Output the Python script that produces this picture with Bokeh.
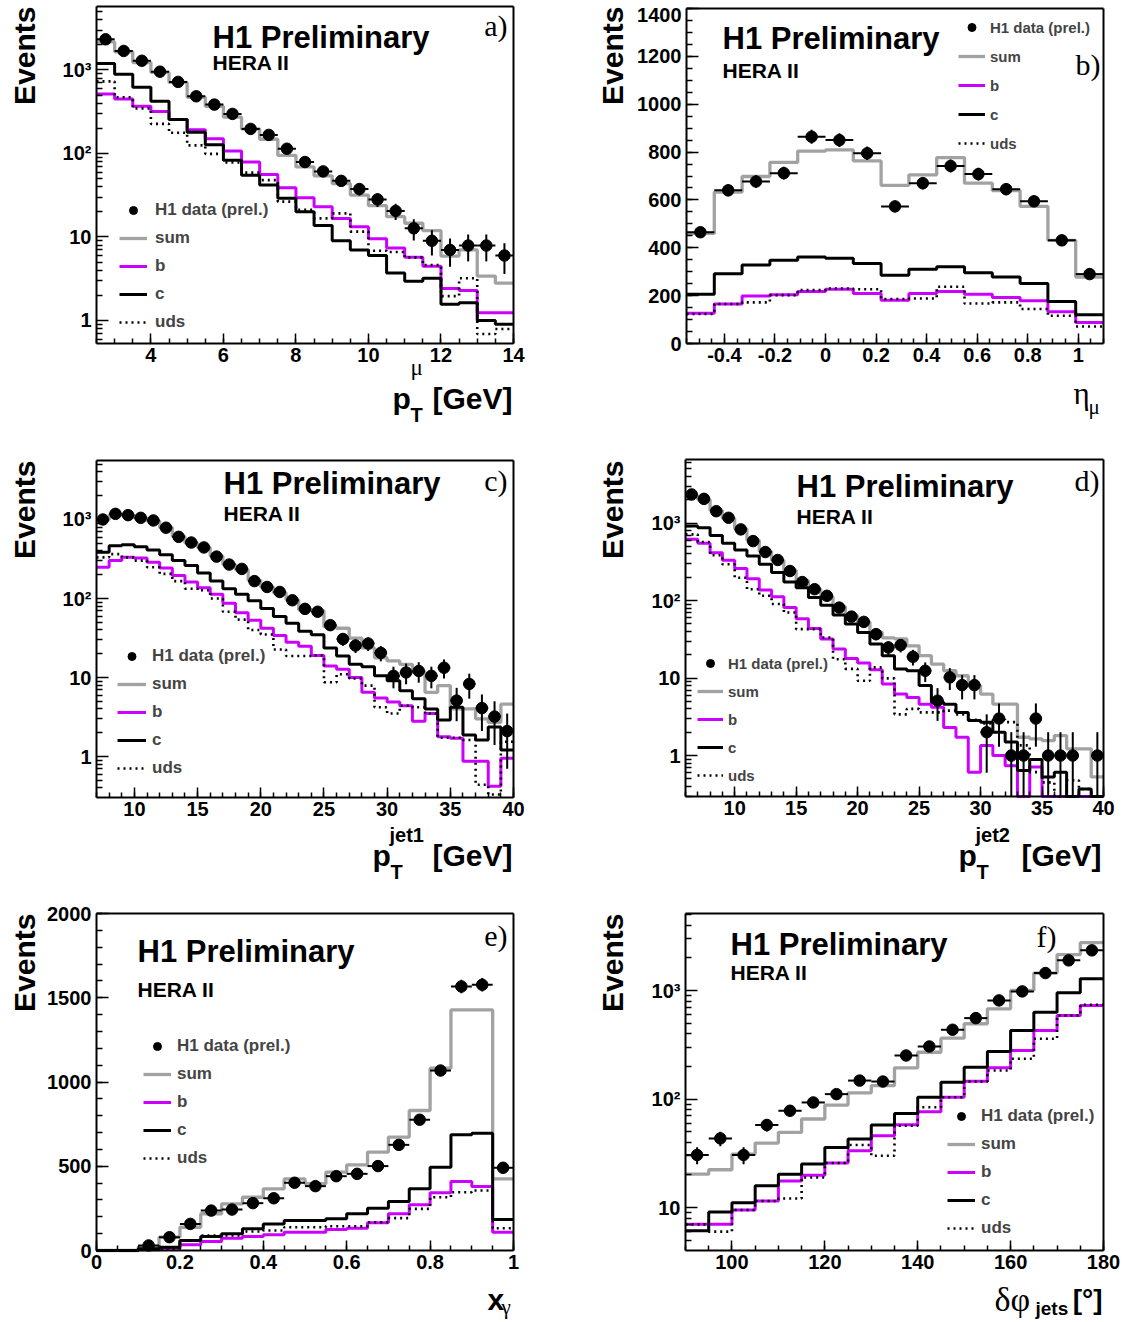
import numpy as np
from bokeh.plotting import figure
from bokeh.models import FixedTicker, Label, Legend, LegendItem, Range1d, LinearAxis
from bokeh.layouts import column, row
from bokeh.core.properties import value
from bokeh.embed import file_html
from bokeh.resources import INLINE

NaN = float("nan")

# ======================= DATA =======================
LEGEND_LABELS = ["H1 data (prel.)", "sum", "b", "c", "uds"]
log_ticks = [1, 10, 100, 1000]
log_labels = ["1", "10", "10\u00b2", "10\u00b3"]

# a) p_T of the muon, bins (low, high, n)
a_bins = (2.5, 14.0, 23)
a_data = [2330, 1690, 1290, 955, 720, 484, 385, 298, 197, 167, 114, 79, 61, 47, 37.5, 28.2, 20.5, 12.7, 9.0, 7.0, 7.9, 7.9, 6.0]
a_err = [48, 41, 36, 31, 27, 22, 20, 17, 14, 13, 11, 9, 8, 7, 6, 5.3, 4.5, 3.6, 3.0, 2.6, 2.8, 2.8, 2.4]
a_sum = [2170, 1650, 1230, 935, 710, 471, 367, 272, 197, 148, 95, 69, 54, 43.7, 31.8, 23.7, 17.5, 14.6, 11.9, 5.9, 7.0, 3.4, 2.8]
a_b = [515, 449, 367, 318, 255, 192, 150, 107, 79, 56, 39, 29.5, 23, 16.7, 13.3, 9.5, 7.4, 5.7, 4.45, 2.42, 2.29, 1.24, 1.24]
a_c = [1195, 890, 620, 422, 255, 180, 127, 83, 55, 41.8, 29, 20.1, 13.7, 9.0, 7.0, 6.0, 3.7, 2.95, 3.2, 1.56, 1.63, 1.0, 0.9]
a_uds = [730, 471, 347, 226, 177, 125, 99, 78, 59, 48, 26.5, 21.2, 16.7, 19.2, 11.6, 6.85, 6.6, 5.7, 4.6, 1.96, 3.2, 0.69, 0.79]
a_xticks = [4, 6, 8, 10, 12, 14]
a_xlabels = ["4", "6", "8", "10", "12", "14"]

# b) eta of the muon
b_bins = (-0.55, 1.1, 15)
b_data = [465, 640, 677, 712, 864, 850, 795, 573, 670, 742, 708, 645, 594, 431, 290]
b_err = [22, 25, 26, 27, 29, 29, 28, 24, 26, 27, 27, 25, 24, 21, 17]
b_sum = [460, 633, 698, 757, 804, 809, 763, 661, 705, 777, 670, 639, 573, 431, 278]
b_b = [126, 165, 199, 204, 217, 227, 209, 181, 209, 217, 206, 192, 179, 133, 88]
b_c = [206, 292, 328, 348, 361, 356, 334, 285, 310, 321, 296, 278, 251, 176, 120]
b_uds = [123, 165, 172, 202, 223, 230, 227, 186, 188, 237, 167, 172, 144, 116, 71]
b_xticks = [-0.4, -0.2, 0.0, 0.2, 0.4, 0.6, 0.8, 1.0]
b_xlabels = ["-0.4", "-0.2", "0", "0.2", "0.4", "0.6", "0.8", "1"]
b_yticks = [0, 200, 400, 600, 800, 1000, 1200, 1400]
b_ylabels = ["0", "200", "400", "600", "800", "1000", "1200", "1400"]

# c) p_T of jet 1
c_bins = (7.0, 40.0, 33)
c_data = [1000, 1178, 1135, 1050, 972, 787, 603, 511, 443, 339, 269, 237, 166, 140, 121, 95, 74, 68, 46, 30.7, 25.4, 26.9, 20.5, 10.5, 11.6, 12.1, 10.5, 13.3, 5.1, 8.3, 4.1, 3.2, 2.1]
c_err = [31.6, 34.3, 33.7, 32.4, 31.2, 28.1, 24.6, 22.6, 21.0, 18.4, 16.4, 15.4, 12.9, 11.8, 11.0, 9.7, 8.6, 8.2, 6.8, 5.5, 5.0, 5.2, 4.5, 3.2, 3.4, 3.5, 3.2, 3.6, 2.3, 2.9, 2.0, 1.8, 1.4]
c_sum = [990, 1150, 1130, 1040, 960, 790, 610, 505, 440, 345, 270, 232, 170, 140, 118, 96, 72, 70, 44, 42, 31.6, 23.7, 17.8, 16.2, 14.7, 11.8, 6.5, 7.9, 4.0, 4.0, 3.0, 2.7, 4.6]
c_b = [249, 302, 332, 325, 288, 244, 196, 162, 137, 113, 87, 66, 53, 42, 34, 28, 24.9, 19.0, 14.0, 12.7, 10.0, 6.5, 5.5, 4.9, 4.4, 2.8, 3.5, 1.78, 1.7, 0.87, 0.87, 0.42, 0.95]
c_c = [384, 465, 479, 452, 410, 359, 302, 261, 210, 166, 133, 113, 94, 75, 59, 48.7, 38.4, 34.9, 23.7, 18.7, 14.7, 13.7, 10.5, 9.1, 6.8, 5.4, 4.0, 2.9, 4.2, 1.87, 1.62, 2.37, 1.21]
c_uds = [332, 365, 332, 302, 249, 205, 166, 133, 127, 100, 68, 54, 40, 35, 22.6, 18.7, 18.7, 19, 8.7, 11.0, 9.7, 7.9, 4.2, 3.5, 4.4, 4.2, 3.5, 1.73, 1.73, 1.62, 0.44, 0.33, 1.54]
c_xticks = [10, 15, 20, 25, 30, 35, 40]
c_xlabels = ["10", "15", "20", "25", "30", "35", "40"]

# d) p_T of jet 2
d_bins = (6.0, 40.0, 34)
d_data = [2335, 2050, 1420, 1167, 827, 584, 422, 333, 240, 173, 140, 115, 81, 62, 53, 36.8, 24.8, 26.6, 18.8, 12.4, 5.1, 10.2, 8.1, 8.1, 2.0, 3.0, 1.0, 1.0, 3.0, 1.0, 1.0, 1.0, NaN, 1.0]
d_err = [48, 45, 38, 34, 29, 24, 20.5, 18.2, 15.5, 13.2, 11.8, 10.7, 9.0, 7.9, 7.3, 6.1, 5.0, 5.2, 4.3, 3.5, 2.3, 3.2, 2.8, 2.8, 1.4, 1.7, 1.0, 1.0, 1.7, 1.0, 1.0, 1.0, 0, 1.0]
d_sum = [2250, 2000, 1450, 1150, 840, 600, 430, 330, 245, 180, 140, 112, 84, 64, 53, 39, 33, 32, 26, 19.4, 15.1, 12.4, 10.7, 8.0, 6.2, 4.6, 4.6, 1.72, 1.64, 1.56, 1.81, 1.22, 1.22, 0.53]
d_b = [615, 546, 414, 330, 258, 191, 137, 112, 81, 58, 43.5, 31.8, 23.6, 17.9, 15.6, 12.8, 8.4, 6.2, 5.6, 4.6, 4.2, 2.3, 1.72, 0.61, 1.35, 1.0, 0.74, 0, 0.71, 0, 0, 0, 0, 0]
d_c = [912, 867, 692, 546, 448, 375, 293, 229, 173, 146, 109, 87, 65, 49.6, 38.6, 27.4, 19.4, 13.1, 12.4, 8.0, 4.85, 4.6, 3.6, 2.82, 2.69, 2.0, 1.49, 0.64, 0.89, 0.53, 0.61, 0, 0.37, 0]
d_uds = [713, 568, 383, 293, 197, 140, 115, 90, 70, 42.7, 42.7, 33.3, 17.5, 13.1, 9.2, 13.7, 9.9, 3.4, 4.0, 3.6, 3.6, 3.8, 3.4, 2.9, 2.6, 2.9, 2.7, 1.35, 0.61, 0.45, 0, 0.48, 0.37, 0]
d_xticks = [10, 15, 20, 25, 30, 35, 40]
d_xlabels = ["10", "15", "20", "25", "30", "35", "40"]

# e) x_gamma
e_bins = (0.0, 1.0, 20)
e_data = [NaN, NaN, 30, 79, 158, 237, 243, 281, 310, 402, 382, 441, 455, 501, 627, 776, 1068, 1567, 1577, 491]
e_err = [0, 0, 5.5, 9, 12.6, 15.4, 15.6, 16.8, 17.6, 20, 19.5, 21, 21.3, 22.4, 25, 27.9, 32.7, 39.6, 39.7, 22.2]
e_sum = [0, 0, 20, 79, 138, 218, 277, 316, 366, 425, 396, 465, 508, 584, 673, 831, 1082, 1428, 1428, 425]
e_b = [0, 0, 4, 14, 34, 53, 73, 83, 93, 109, 109, 125, 132, 164, 218, 271, 342, 410, 380, 109]
e_c = [0, 0, 10, 20, 59, 83, 99, 129, 158, 178, 178, 188, 218, 251, 291, 366, 494, 687, 696, 184]
e_uds = [0, 0, 5, 10, 59, 89, 89, 113, 119, 138, 138, 144, 144, 168, 192, 247, 316, 346, 356, 132]
e_xticks = [0.0, 0.2, 0.4, 0.6, 0.8, 1.0]
e_xlabels = ["0", "0.2", "0.4", "0.6", "0.8", "1"]
e_yticks = [0, 500, 1000, 1500, 2000]
e_ylabels = ["0", "500", "1000", "1500", "2000"]

# f) delta phi of the jets
f_bins = (90.0, 180.0, 18)
f_data = [30.5, 43.4, 30.5, 57.7, 78, 93, 111, 148, 145, 252, 305, 435, 557, 811, 982, 1449, 1897, 2345]
f_err = [5.5, 6.6, 5.5, 7.6, 8.8, 9.6, 10.5, 12.2, 12.0, 15.9, 17.5, 20.9, 23.6, 28.5, 31.3, 38.1, 43.6, 48.4]
f_sum = [20.3, 22.3, 31.1, 39.3, 49.3, 65.5, 88, 114, 133, 194, 270, 364, 494, 679, 1002, 1449, 2141, 2763]
f_b = [7.0, 7.0, 9.5, 11.5, 17.6, 19.9, 25.7, 33.4, 45.9, 58, 76.5, 104, 146, 194, 280, 428, 589, 728]
f_c = [6.1, 9.1, 11.1, 15.9, 20.3, 25.2, 35.8, 42.8, 57.7, 73.5, 104, 143, 196, 274, 428, 632, 955, 1285]
f_uds = [7.0, 6.0, 9.5, 11.5, 12.1, 18.9, 25.7, 37.7, 30, 56.8, 84, 104, 145, 183, 235, 359, 589, 739]
f_xticks = [100, 120, 140, 160, 180]
f_xlabels = ["100", "120", "140", "160", "180"]

# ======================= STYLE / LAYOUT =======================
GRAY = "#a2a2a2"
MAGENTA = "#cc00ff"
SANS = "Liberation Sans"
SERIF = "Liberation Serif"

# canvas blocks (page px): columns (x0, width), rows (y0, height)
COLS = {"L": (0, 590), "R": (590, 538)}
ROWS = {1: (0, 448), 2: (448, 453), 3: (901, 420)}

LOG_MINOR = [m * 10.0 ** k for k in range(-1, 4) for m in range(2, 10)]


def frange(a, b, s):
    n = int(round((b - a) / s))
    return [round(a + i * s, 6) for i in range(n + 1)]


def make_geom(col, rw, box, xr, yr, log):
    cx0, cw = COLS[col]
    cy0, ch = ROWS[rw]
    return dict(cx0=cx0, cw=cw, cy0=cy0, ch=ch, bl=box[0], br=box[1], bt=box[2], bb=box[3],
                x0=xr[0], x1=xr[1], y0=yr[0], y1=yr[1], log=log)


def to_data(g, px, py):
    x = g["x0"] + (px - g["bl"]) / (g["br"] - g["bl"]) * (g["x1"] - g["x0"])
    t = (g["bb"] - py) / (g["bb"] - g["bt"])
    if g["log"]:
        l0, l1 = np.log10(g["y0"]), np.log10(g["y1"])
        y = 10 ** (l0 + t * (l1 - l0))
    else:
        y = g["y0"] + t * (g["y1"] - g["y0"])
    return float(x), float(y)


def inside(vals, lo, hi):
    return [v for v in vals if lo - 1e-9 <= v <= hi + 1e-9]


def style_axis(ax):
    ax.axis_line_color = "black"
    ax.axis_line_width = 2
    ax.major_tick_line_color = "black"
    ax.minor_tick_line_color = "black"
    ax.major_tick_line_width = 1.5
    ax.minor_tick_line_width = 1.5
    ax.major_tick_out = 0
    ax.minor_tick_out = 0
    ax.major_label_text_font = SANS
    ax.major_label_text_font_style = "bold"
    ax.major_label_text_font_size = "20px"
    ax.major_label_text_color = "black"


def panel(g, bins, data, err, sums, bq, cq, uds, xt, xl, xminor, yt, yl, yminor, leg, texts):
    lo, hi, n = bins
    edges = np.linspace(lo, hi, n + 1)
    centers = 0.5 * (edges[:-1] + edges[1:])
    X0, Ytop = to_data(g, g["cx0"], g["cy0"])
    X1, Ybot = to_data(g, g["cx0"] + g["cw"], g["cy0"] + g["ch"])
    p = figure(width=g["cw"], height=g["ch"],
               x_range=Range1d(X0, X1), y_range=Range1d(Ybot, Ytop),
               y_axis_type="log" if g["log"] else "linear",
               output_backend="svg", toolbar_location=None, title=None, min_border=0)
    p.xgrid.visible = False
    p.ygrid.visible = False
    p.outline_line_color = None
    p.background_fill_color = "white"
    p.border_fill_color = "white"

    floor = g["y0"]

    def hy(v):
        v = np.maximum(np.asarray(v, float), floor)
        return np.append(v, v[-1])

    r_sum = p.step(edges, hy(sums), mode="after", line_color=GRAY, line_width=3.3)
    r_b = p.step(edges, hy(bq), mode="after", line_color=MAGENTA, line_width=3)
    r_c = p.step(edges, hy(cq), mode="after", line_color="black", line_width=3)
    r_u = p.step(edges, hy(uds), mode="after", line_color="black", line_width=2.6, line_dash="2 4")

    v = np.asarray(data, float)
    e = np.asarray(err, float)
    ylo = np.maximum(v - e, floor)
    p.segment(centers, ylo, centers, v + e, line_color="black", line_width=2)
    p.segment(edges[:-1], v, edges[1:], v, line_color="black", line_width=2)
    r_d = p.scatter(centers, v, size=11.5, fill_color="black", line_color="black")

    # axes drawn along the plot box
    xa, ya = p.xaxis[0], p.yaxis[0]
    xa.fixed_location = g["y0"]
    xa.bounds = (g["x0"], g["x1"])
    ya.fixed_location = g["x0"]
    ya.bounds = (g["y0"], g["y1"])
    xt_in = inside(xt, g["x0"], g["x1"])
    yt_in = inside(yt, g["y0"], g["y1"])
    xa.ticker = FixedTicker(ticks=xt_in, minor_ticks=inside(xminor, g["x0"], g["x1"]))
    xa.major_label_overrides = {t: s for t, s in zip(xt, xl) if t in xt_in}
    ya.ticker = FixedTicker(ticks=yt_in, minor_ticks=inside(yminor, g["y0"], g["y1"]))
    ya.major_label_overrides = {t: s for t, s in zip(yt, yl) if t in yt_in}
    style_axis(xa)
    style_axis(ya)
    xa.major_tick_in = 10
    xa.minor_tick_in = 5
    xa.major_label_standoff = 4
    ya.major_tick_in = 12
    ya.minor_tick_in = 6
    ya.major_label_standoff = 5
    top = LinearAxis(ticker=FixedTicker(ticks=[], minor_ticks=[]), fixed_location=g["y1"],
                     bounds=(g["x0"], g["x1"]))
    right = LinearAxis(ticker=FixedTicker(ticks=[], minor_ticks=[]), fixed_location=g["x1"],
                       bounds=(g["y0"], g["y1"]))
    for ax in (top, right):
        style_axis(ax)
        ax.major_tick_in = 0
        ax.minor_tick_in = 0
    p.add_layout(top, "above")
    p.add_layout(right, "right")

    items = [LegendItem(label=value(lab), renderers=[r])
             for lab, r in zip(LEGEND_LABELS, [r_d, r_sum, r_b, r_c, r_u])]
    vx = leg["gx"] - g["cx0"]
    vy = (g["cy0"] + g["ch"]) - (leg["cl"] + 10)
    lg = Legend(items=items, location=(vx, vy), padding=0, margin=0,
                spacing=leg["sp"], glyph_width=leg["gw"], glyph_height=20, label_height=20,
                label_standoff=leg["so"], label_text_font=SANS, label_text_font_style="bold",
                label_text_font_size=leg["fs"], border_line_alpha=0, background_fill_alpha=0)
    p.add_layout(lg)

    for (txt, px, py, size, font, style, align, base, ang) in texts:
        x, y = to_data(g, px, py)
        p.add_layout(Label(x=x, y=y, text=txt, text_font=font, text_font_style=style,
                           text_font_size=f"{size}px", text_align=align, text_baseline=base,
                           angle=np.deg2rad(ang), text_color="black"))
    return p


B, N = "bold", "normal"
L_, R_, M_, A_ = "left", "right", "middle", "alphabetic"


def common(ex, ey, letter, lx, ly, hx, hy1, hy2):
    return [("Events", ex, ey, 30, SANS, B, R_, M_, 90),
            (letter, lx, ly, 30, SERIF, N, R_, M_, 0),
            ("H1 Preliminary", hx, hy1, 31, SANS, B, L_, M_, 0),
            ("HERA II", hx, hy2, 21, SANS, B, L_, M_, 0)]


ga = make_geom("L", 1, (96, 513, 6, 343), (2.5, 14.0), (0.530, 5760), True)
gb = make_geom("R", 1, (686, 1103, 8, 343), (-0.55, 1.1), (0, 1400), False)
gc = make_geom("L", 2, (96, 513, 460, 797), (7.0, 40.0), (0.303, 5580), True)
gd = make_geom("R", 2, (685, 1103, 459, 796), (6.0, 40.0), (0.296, 6596), True)
ge = make_geom("L", 3, (96, 513, 913, 1250), (0.0, 1.0), (0, 2000), False)
gf = make_geom("R", 3, (685, 1103, 913, 1250), (90.0, 180.0), (4.02, 5128), True)

# the top tick label of b) is written as a text just below its tick so that it stays on the page
b_ylabels_axis = b_ylabels[:-1] + [""]

ta = common(24, 6, "a)", 507, 25, 212, 36.5, 62) + [
    ("p", 392, 398, 30, SANS, B, L_, A_, 0),
    ("T", 410, 414, 20, SANS, B, L_, A_, 0),
    ("\u03bc", 410, 367, 23, SERIF, N, L_, A_, 0),
    ("[GeV]", 512, 398, 30, SANS, B, R_, A_, 0)]
tb = common(612, 6, "b)", 1100, 64, 722, 38, 70) + [
    (b_ylabels[-1], 681, 14, 20, SANS, B, R_, M_, 0),
    ("\u03b7", 1073, 393, 31, SERIF, N, L_, A_, 0),
    ("\u03bc", 1088, 406, 21, SERIF, N, L_, A_, 0)]
tc = common(24, 460, "c)", 507, 480, 223, 483, 512.5) + [
    ("p", 372, 855, 30, SANS, B, L_, A_, 0),
    ("T", 390, 871, 20, SANS, B, L_, A_, 0),
    ("jet1", 389, 834, 20, SANS, B, L_, A_, 0),
    ("[GeV]", 512, 855, 30, SANS, B, R_, A_, 0)]
td = common(612, 460, "d)", 1099, 480, 796, 486, 516) + [
    ("p", 958, 855, 30, SANS, B, L_, A_, 0),
    ("T", 976, 871, 20, SANS, B, L_, A_, 0),
    ("jet2", 975, 834, 20, SANS, B, L_, A_, 0),
    ("[GeV]", 1101, 855, 30, SANS, B, R_, A_, 0)]
te = common(24, 913, "e)", 507, 935, 137, 951, 989) + [
    ("x", 487, 1299, 30, SANS, B, L_, A_, 0),
    ("\u03b3", 501, 1306, 21, SERIF, N, L_, A_, 0)]
tf = common(612, 913, "f)", 1056, 936, 730, 944, 972) + [
    ("\u03b4\u03c6", 994, 1299, 34, SERIF, N, L_, A_, 0),
    ("jets", 1035, 1308, 19, SANS, B, L_, A_, 0),
    ("[\u00b0]", 1102, 1299, 28, SANS, B, R_, A_, 0)]

pa = panel(ga, a_bins, a_data, a_err, a_sum, a_b, a_c, a_uds,
           a_xticks, a_xlabels, frange(2.5, 14.0, 0.5), log_ticks, log_labels, LOG_MINOR,
           dict(gx=119, cl=322, sp=8, gw=28, so=8, fs="17px"), ta)
pb = panel(gb, b_bins, b_data, b_err, b_sum, b_b, b_c, b_uds,
           b_xticks, b_xlabels, frange(-0.55, 1.1, 0.05), b_yticks, b_ylabels_axis, frange(0, 1400, 50),
           dict(gx=958, cl=143, sp=9, gw=27, so=5, fs="15px"), tb)
pc = panel(gc, c_bins, c_data, c_err, c_sum, c_b, c_c, c_uds,
           c_xticks, c_xlabels, frange(7, 40, 1), log_ticks, log_labels, LOG_MINOR,
           dict(gx=117, cl=768, sp=8, gw=29, so=6, fs="17px"), tc)
pd_ = panel(gd, d_bins, d_data, d_err, d_sum, d_b, d_c, d_uds,
            d_xticks, d_xlabels, frange(6, 40, 1), log_ticks, log_labels, LOG_MINOR,
            dict(gx=697, cl=775, sp=8, gw=26, so=5, fs="15px"), td)
pe = panel(ge, e_bins, e_data, e_err, e_sum, e_b, e_c, e_uds,
           e_xticks, e_xlabels, frange(0, 1, 0.05), e_yticks, e_ylabels, frange(0, 2000, 100),
           dict(gx=143, cl=1158, sp=8, gw=28, so=6, fs="17px"), te)
pf = panel(gf, f_bins, f_data, f_err, f_sum, f_b, f_c, f_uds,
           f_xticks, f_xlabels, frange(90, 180, 5), log_ticks, log_labels, LOG_MINOR,
           dict(gx=947, cl=1228, sp=8, gw=28, so=6, fs="17px"), tf)

layout = column(row(pa, pb, spacing=0), row(pc, pd_, spacing=0), row(pe, pf, spacing=0), spacing=0)
open("out.html", "w").write(file_html(layout, INLINE, title="H1 Preliminary"))
